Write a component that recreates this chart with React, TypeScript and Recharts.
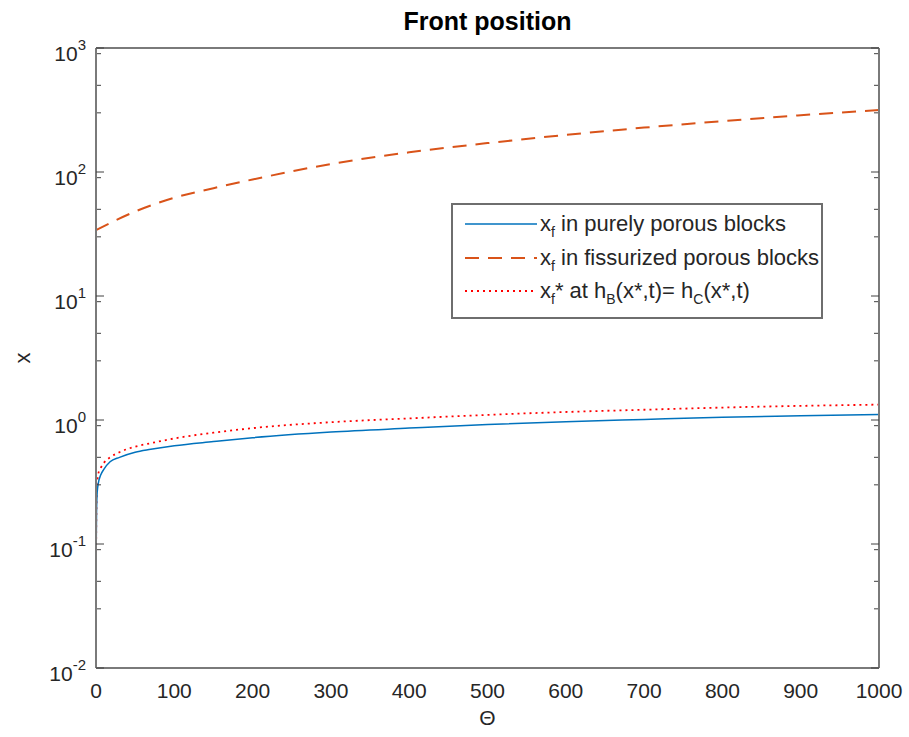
import React from 'react';
import { LineChart, Line, XAxis, YAxis, Legend } from 'recharts';

// ---- data ----
const thetaFine = [0, 0.3, 0.7, 1.5, 3, 6, 10, 18, 30, 50, 70, 100, 150, 200, 300, 400, 500, 600, 700, 800, 900, 1000];
const xfPorous = [0.04, 0.1, 0.18, 0.26, 0.31, 0.36, 0.4, 0.46, 0.5, 0.55, 0.58, 0.62, 0.67, 0.72, 0.8, 0.86, 0.92, 0.97, 1.01, 1.05, 1.08, 1.11];
const xfStar = [0.05, 0.13, 0.22, 0.31, 0.37, 0.41, 0.45, 0.5, 0.55, 0.61, 0.65, 0.71, 0.79, 0.86, 0.96, 1.03, 1.1, 1.16, 1.21, 1.26, 1.3, 1.33];
const thetaCoarse = [0, 50, 100, 150, 200, 300, 400, 500, 600, 700, 800, 900, 1000];
const xfFissured = [34, 48, 62, 74, 87, 116, 144, 171, 199, 228, 257, 287, 316];

const xTicks = [0, 100, 200, 300, 400, 500, 600, 700, 800, 900, 1000];
const yExponents = [-2, -1, 0, 1, 2, 3];
const yMajorTicks = yExponents.map((e) => Math.pow(10, e));
const yMinorTicks: number[] = [];
for (const e of [-2, -1, 0, 1, 2]) {
  for (let m = 2; m <= 9; m++) yMinorTicks.push(m * Math.pow(10, e));
}

const porousData = thetaFine.map((t, i) => ({ t, v: xfPorous[i] }));
const starData = thetaFine.map((t, i) => ({ t, v: xfStar[i] }));
const fissData = thetaCoarse.map((t, i) => ({ t, v: xfFissured[i] }));

const FONT = '"Liberation Sans", Arial, Helvetica, sans-serif';
const TXT = '#262626';
const FRAME = '#7a7a7a';
const TICKC = '#404040';
const BLUE = '#0072BD';
const ORANGE = '#D95319';
const RED = '#FF0000';

const NoTick = () => null;

const YTick = (props: any) => {
  const { x, y, payload } = props;
  const e = Math.round(Math.log10(payload.value));
  return (
    <text x={x} y={y + 13} textAnchor="end" fontFamily={FONT} fontSize={21} fill={TXT}>
      10
      <tspan dy={-11} fontSize={15}>{String(e)}</tspan>
    </text>
  );
};

const XTick = (props: any) => {
  const { x, y, payload } = props;
  return (
    <text x={x} y={y + 30} textAnchor="middle" fontFamily={FONT} fontSize={21} fill={TXT}>
      {payload.value}
    </text>
  );
};

const legendItems = [
  { color: BLUE, dash: undefined as string | undefined, width: 1.5, key: 'p' },
  { color: ORANGE, dash: '14 9', width: 2, key: 'f' },
  { color: RED, dash: '2 4', width: 1.8, key: 's' },
];

const renderLegend = () => {
  const rowY = [21, 55, 88];
  const sub = (s: string) => (
    <tspan dy={6} fontSize={14}>{s}</tspan>
  );
  const up = (s: string) => <tspan dy={-6}>{s}</tspan>;
  return (
    <svg width={372} height={116} style={{ display: 'block' }}>
      <rect x={1} y={1} width={370} height={114} fill="#fff" stroke="#6e6e6e" strokeWidth={2} />
      {legendItems.map((it, i) => (
        <line key={it.key} x1={14} x2={86} y1={rowY[i]} y2={rowY[i]} stroke={it.color} strokeWidth={it.width} strokeDasharray={it.dash} />
      ))}
      <text x={89} y={rowY[0] + 7} fontFamily={FONT} fontSize={22} fill={TXT}>
        x{sub('f')}{up(' in purely porous blocks')}
      </text>
      <text x={89} y={rowY[1] + 7} fontFamily={FONT} fontSize={22} fill={TXT}>
        x{sub('f')}{up(' in fissurized porous blocks')}
      </text>
      <text x={89} y={rowY[2] + 7} fontFamily={FONT} fontSize={22} fill={TXT}>
        x{sub('f')}{up('* at h')}{sub('B')}{up('(x*,t)= h')}{sub('C')}{up('(x*,t)')}
      </text>
    </svg>
  );
};

export default function App() {
  return (
    <div style={{ position: 'absolute', left: 0, top: 0, width: 909, height: 737, background: '#fff' }}>
      <LineChart width={909} height={737} margin={{ top: 48, right: 30, left: 0, bottom: 0 }}>
        <XAxis
          xAxisId="x"
          type="number"
          dataKey="t"
          domain={[0, 1000]}
          ticks={xTicks}
          allowDataOverflow
          height={69}
          tickLine={false}
          tickSize={0}
          tickMargin={0}
          axisLine={{ stroke: FRAME, strokeWidth: 2 }}
          tick={<XTick />}
          label={(p: any) => {
            const vb = p.viewBox || {};
            return (
              <text x={vb.x + vb.width / 2} y={vb.y + 57} textAnchor="middle" fontFamily={FONT} fontSize={21} fill={TXT}>
                Θ
              </text>
            );
          }}
        />
        <XAxis xAxisId="xb" type="number" domain={[0, 1000]} ticks={xTicks} allowDataOverflow orientation="bottom" mirror height={1} tick={<NoTick />} axisLine={false} tickSize={8} tickLine={{ stroke: TICKC }} />
        <XAxis
          xAxisId="xt"
          type="number"
          domain={[0, 1000]}
          ticks={xTicks}
          allowDataOverflow
          orientation="top"
          mirror
          height={1}
          tick={<NoTick />}
          tickSize={8}
          tickLine={{ stroke: TICKC }}
          axisLine={{ stroke: FRAME, strokeWidth: 2 }}
          label={(p: any) => {
            const vb = p.viewBox || {};
            return (
              <text x={vb.x + vb.width / 2} y={vb.y - 18} textAnchor="middle" fontFamily={FONT} fontSize={25} fontWeight="bold" fill="#000">
                Front position
              </text>
            );
          }}
        />
        <YAxis
          yAxisId="y"
          type="number"
          scale="log"
          domain={[0.01, 1000]}
          ticks={yMajorTicks}
          allowDataOverflow
          width={96}
          tickLine={false}
          tickSize={6}
          tickMargin={4}
          axisLine={{ stroke: FRAME, strokeWidth: 2 }}
          tick={<YTick />}
          label={(p: any) => {
            const vb = p.viewBox || {};
            const cx = vb.x + 22;
            const cy = vb.y + vb.height / 2;
            return (
              <text x={cx} y={cy} textAnchor="middle" dominantBaseline="central" transform={`rotate(-90 ${cx} ${cy})`} fontFamily={FONT} fontSize={22} fill={TXT}>
                x
              </text>
            );
          }}
        />
        <YAxis yAxisId="yl1" type="number" scale="log" domain={[0.01, 1000]} ticks={yMajorTicks} allowDataOverflow mirror width={1} tick={<NoTick />} axisLine={false} tickSize={8} tickLine={{ stroke: TICKC }} />
        <YAxis yAxisId="yl2" type="number" scale="log" domain={[0.01, 1000]} ticks={yMinorTicks} allowDataOverflow mirror width={1} tick={<NoTick />} axisLine={false} tickSize={4} tickLine={{ stroke: TICKC }} />
        <YAxis yAxisId="yr1" type="number" scale="log" domain={[0.01, 1000]} ticks={yMajorTicks} allowDataOverflow orientation="right" mirror width={1} tick={<NoTick />} axisLine={{ stroke: FRAME, strokeWidth: 2 }} tickSize={8} tickLine={{ stroke: TICKC }} />
        <YAxis yAxisId="yr2" type="number" scale="log" domain={[0.01, 1000]} ticks={yMinorTicks} allowDataOverflow orientation="right" mirror width={1} tick={<NoTick />} axisLine={false} tickSize={4} tickLine={{ stroke: TICKC }} />

        <Line xAxisId="x" yAxisId="y" data={fissData} dataKey="v" type="monotone" stroke={ORANGE} strokeWidth={2} strokeDasharray="14 9" dot={false} isAnimationActive={false} />
        <Line xAxisId="x" yAxisId="y" data={starData} dataKey="v" type="monotone" stroke={RED} strokeWidth={1.8} strokeDasharray="2 4" dot={false} isAnimationActive={false} />
        <Line xAxisId="x" yAxisId="y" data={porousData} dataKey="v" type="monotone" stroke={BLUE} strokeWidth={1.5} dot={false} isAnimationActive={false} />

        <Legend
          layout="vertical"
          align="center"
          verticalAlign="middle"
          content={renderLegend}
          wrapperStyle={{ position: 'absolute', left: 451, top: 203, width: 372, height: 116 }}
        />
      </LineChart>
    </div>
  );
}
